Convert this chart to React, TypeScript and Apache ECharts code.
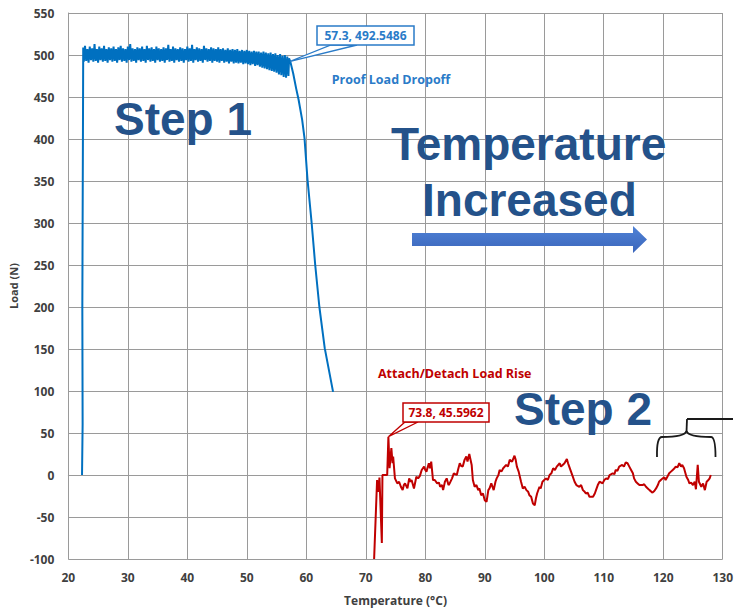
import React, { useEffect, useRef } from "react";
import * as echarts from "echarts";

const xTicks = { min: 20, max: 130, interval: 10 };
const yTicks = { min: -100, max: 550, interval: 50 };

const blueLoad: [number, number][] = [
  [22.3, 0], [22.4, 60], [22.35, 200], [22.45, 400], [22.5, 509],
  [22.6, 492], [22.8, 511], [23.0, 493], [23.2, 507], [23.4, 491], [23.6, 510], [23.8, 494], [24.0, 508], [24.2, 492], [24.4, 513],
  [24.6, 493], [24.8, 507], [25.0, 491], [25.2, 510], [25.4, 494], [25.6, 508], [25.8, 492], [26.0, 511], [26.2, 493], [26.4, 507],
  [26.6, 491], [26.8, 509], [27.0, 494], [27.2, 508], [27.4, 492], [27.6, 510], [27.8, 493], [28.0, 507], [28.2, 491], [28.4, 509],
  [28.6, 494], [28.8, 511], [29.0, 492], [29.2, 508], [29.4, 493], [29.6, 507], [29.8, 491], [30.0, 510], [30.2, 494], [30.4, 513],
  [30.6, 492], [30.8, 508], [31.0, 493], [31.2, 507], [31.4, 491], [31.6, 509], [31.8, 494], [32.0, 508], [32.2, 492], [32.4, 510],
  [32.6, 493], [32.8, 507], [33.0, 491], [33.2, 511], [33.4, 494], [33.6, 508], [33.8, 492], [34.0, 509], [34.2, 493], [34.4, 507],
  [34.6, 491], [34.8, 510], [35.0, 494], [35.2, 508], [35.4, 492], [35.6, 507], [35.8, 493], [36.0, 509], [36.2, 491], [36.4, 508],
  [36.6, 494], [36.8, 512], [37.0, 492], [37.2, 507], [37.4, 493], [37.6, 510], [37.8, 491], [38.0, 508], [38.2, 494], [38.4, 507],
  [38.6, 492], [38.8, 509], [39.0, 493], [39.2, 508], [39.4, 491], [39.6, 507], [39.8, 494], [40.0, 510], [40.2, 492], [40.4, 508],
  [40.6, 493], [40.8, 512], [41.0, 491], [41.2, 507], [41.4, 494], [41.6, 509], [41.8, 492], [42.0, 508], [42.2, 493], [42.4, 507],
  [42.6, 491], [42.8, 511], [43.0, 494], [43.2, 508], [43.4, 492], [43.6, 507], [43.8, 493], [44.0, 509], [44.2, 491], [44.4, 508],
  [44.6, 493], [44.8, 507], [45.0, 492], [45.2, 509], [45.4, 491], [45.6, 507], [45.8, 493], [46.0, 508], [46.2, 491], [46.4, 506],
  [46.6, 492], [46.8, 508], [47.0, 490], [47.2, 506], [47.4, 492], [47.6, 507], [47.8, 490], [48.0, 506], [48.2, 491], [48.4, 507],
  [48.6, 490], [48.8, 505], [49.0, 491], [49.2, 506], [49.4, 489], [49.6, 505], [49.8, 490], [50.0, 506], [50.2, 489], [50.4, 505],
  [50.6, 488], [50.8, 504], [51.0, 489], [51.2, 505], [51.4, 487], [51.6, 504], [51.8, 488], [52.0, 504], [52.2, 486], [52.4, 503],
  [52.6, 485], [52.8, 504], [53.0, 484], [53.2, 503], [53.4, 483], [53.6, 502], [53.8, 482], [54.0, 503], [54.2, 481], [54.4, 501],
  [54.6, 480], [54.8, 502], [55.0, 479], [55.2, 500], [55.4, 477], [55.6, 501], [55.8, 476], [56.0, 499], [56.2, 474], [56.4, 500],
  [56.6, 473], [56.8, 498], [57.0, 475], [57.1, 496], [57.3, 492.5486],
  [57.8, 478], [58.3, 460], [58.7, 447], [59.3, 423], [59.7, 401], [60.2, 352], [60.9, 300],
  [61.5, 250], [62.2, 200], [63.1, 151], [64.5, 99],
];

const redLoad: [number, number][] = [
  [71.4, -100], [71.9, -6], [72.1, -20], [72.3, -3], [72.7, -81], [72.8, 0], [73.6, 0], [73.8, 45.5962],
  [74.0, 8], [74.3, 32], [74.5, 14], [74.6, 22], [74.9, -4], [75.3, -10], [75.6, -8], [75.9, -14], [76.2, -18],
  [76.4, -12], [76.6, -10], [77.0, -16], [77.3, -4], [77.5, -8], [77.7, -6], [78.1, -16], [78.5, -2], [78.8, -4],
  [79.1, -1], [79.4, 6], [79.8, 10], [80.0, 6], [80.2, 4], [80.6, 14], [80.8, 8], [81.0, 16], [81.3, -6], [81.6, -6],
  [82.0, -10], [82.3, -9], [82.5, -14], [82.8, -12], [83.0, -18], [83.3, -8], [83.6, -4], [83.9, -12], [84.1, -10],
  [84.5, -4], [84.8, 2], [85.3, 0], [85.5, 6], [85.8, 14], [86.0, 11], [86.3, 10], [86.6, 18], [86.9, 22], [87.1, 16],
  [87.4, 25], [87.8, 12], [88.0, -6], [88.3, -14], [88.6, -12], [88.9, -18], [89.1, -16], [89.4, -24], [89.7, -22],
  [90.0, -30], [90.3, -32], [90.6, -18], [90.8, -16], [91.1, -10], [91.5, -18], [91.8, -8], [92.0, -4], [92.3, 0],
  [92.5, 6], [92.8, 4], [93.1, 8], [93.6, 12], [93.9, 10], [94.2, 18], [94.6, 16], [95.0, 23], [95.2, 18], [95.4, 10],
  [95.7, 4], [95.9, -2], [96.1, -8], [96.4, -16], [96.7, -14], [97.0, -18], [97.3, -20], [97.5, -24], [97.8, -26],
  [98.1, -34], [98.4, -36], [98.6, -28], [98.8, -22], [99.2, -14], [99.4, -16], [99.7, -8], [100.0, -6], [100.3, -4],
  [100.6, -6], [100.9, 0], [101.2, 2], [101.5, 8], [101.8, 6], [102.1, 10], [102.6, 14], [102.8, 10], [103.1, 12],
  [103.4, 14], [103.8, 19], [104.0, 14], [104.2, 10], [104.5, 4], [104.8, -2], [105.1, -8], [105.4, -12], [105.9, -14],
  [106.2, -12], [106.5, -18], [106.8, -20], [107.0, -22], [107.3, -21], [107.6, -26], [108.2, -26], [108.5, -22],
  [108.7, -18], [109.0, -12], [109.3, -8], [109.8, -10], [110.1, -6], [110.4, -4], [110.7, -5], [111.0, 0], [111.5, 2],
  [111.8, 1], [112.0, 6], [112.3, 5], [112.6, 10], [113.1, 12], [113.4, 10], [113.7, 15], [114.0, 14], [114.3, 10],
  [114.6, 6], [114.9, 2], [115.1, -4], [115.4, -8], [115.7, -10], [116.0, -12], [116.5, -12], [116.8, -11], [117.1, -14],
  [117.4, -16], [117.7, -18], [118.2, -21], [118.5, -19], [118.8, -16], [119.1, -12], [119.3, -8], [119.6, -6],
  [119.9, -4], [120.2, -3], [120.4, -6], [120.7, -2], [121.0, 2], [121.3, 4], [121.6, 6], [121.9, 8], [122.1, 10],
  [122.4, 9], [122.7, 14], [123.0, 10], [123.2, 12], [123.5, 8], [123.9, -2], [124.2, -6], [124.4, -10], [124.7, -9],
  [125.0, -12], [125.3, -8], [125.5, -17], [125.8, 12], [126.0, -8], [126.4, -14], [126.7, -10], [127.0, -18],
  [127.3, -8], [127.6, -6], [127.8, -4], [128.0, 0],
];

const bluePeak: [number, number] = [57.3, 492.5486];
const redPeak: [number, number] = [73.8, 45.5962];
const blueCallout = "57.3, 492.5486";
const redCallout = "73.8, 45.5962";
const blueNote = "Proof Load Dropoff";
const redNote = "Attach/Detach Load Rise";

const BLUE = "#0070c0";
const BLUE_TXT = "#2a7bc8";
const RED = "#c00000";
const BIG = "#24528a";
const LBL = "'Open Sans', 'Noto Sans', sans-serif";
const BIGF = "'Liberation Sans', Arial, sans-serif";

export default function App() {
  const ref = useRef<HTMLDivElement>(null);
  useEffect(() => {
    if (!ref.current) return;
    const chart = echarts.init(ref.current, null, { renderer: "svg" });
    chart.setOption({
      animation: false,
      backgroundColor: "#ffffff",
      grid: { left: 68, right: 13, top: 13, bottom: 53, containLabel: false },
      xAxis: {
        type: "value",
        min: xTicks.min,
        max: xTicks.max,
        interval: xTicks.interval,
        name: "Temperature (°C)",
        nameLocation: "middle",
        nameGap: 35,
        nameTextStyle: { fontFamily: LBL, fontWeight: "bold", fontSize: 12, color: "#404040" },
        axisLine: { show: true, lineStyle: { color: "#9a9a9a", width: 1 } },
        axisTick: { show: false },
        axisLabel: { fontFamily: LBL, fontWeight: "bold", fontSize: 12, color: "#404040", margin: 12 },
        splitLine: { show: true, lineStyle: { color: "#9a9a9a", width: 1 } },
      },
      yAxis: {
        type: "value",
        min: yTicks.min,
        max: yTicks.max,
        interval: yTicks.interval,
        name: "Load (N)",
        nameLocation: "middle",
        nameGap: 46,
        nameTextStyle: { fontFamily: LBL, fontWeight: "bold", fontSize: 11, color: "#404040" },
        axisLine: { show: true, onZero: false, lineStyle: { color: "#9a9a9a", width: 1 } },
        axisTick: { show: false },
        axisLabel: { fontFamily: LBL, fontWeight: "bold", fontSize: 12, color: "#404040", margin: 14 },
        splitLine: { show: true, lineStyle: { color: "#9a9a9a", width: 1 } },
      },
      series: [
        {
          type: "line",
          data: blueLoad,
          showSymbol: false,
          lineStyle: { color: BLUE, width: 2 },
          itemStyle: { color: BLUE },
          z: 3,
        },
        {
          type: "line",
          data: redLoad,
          showSymbol: false,
          lineStyle: { color: RED, width: 2 },
          itemStyle: { color: RED },
          z: 3,
        },
      ],
    });

    const bp = chart.convertToPixel({ gridIndex: 0 }, bluePeak) as number[];
    const rp = chart.convertToPixel({ gridIndex: 0 }, redPeak) as number[];

    const bigText = (text: string, x: number, y: number) => ({
      type: "text",
      x,
      y,
      z: 10,
      style: {
        text,
        font: `bold 46px ${BIGF}`,
        fill: BIG,
        align: "left",
        verticalAlign: "middle",
      },
    });

    const bracketStroke = { stroke: "#1a1a1a", lineWidth: 1.8, fill: "none" };

    chart.setOption({
      graphic: [
        {
          type: "polygon",
          z: 20,
          shape: { points: [[bp[0], bp[1]], [331, 45], [357, 45]] },
          style: { fill: "#ffffff", stroke: BLUE_TXT, lineWidth: 1.3 },
        },
        {
          type: "rect",
          z: 21,
          shape: { x: 317, y: 26, width: 97, height: 19 },
          style: { fill: "#ffffff", stroke: BLUE_TXT, lineWidth: 1.5 },
        },
        {
          type: "text",
          z: 22,
          x: 365.5,
          y: 35.5,
          style: {
            text: blueCallout,
            font: `bold 12px ${LBL}`,
            fill: BLUE_TXT,
            align: "center",
            verticalAlign: "middle",
          },
        },
        {
          type: "text",
          z: 22,
          x: 391,
          y: 79,
          style: {
            text: blueNote,
            font: `bold 12.5px ${LBL}`,
            fill: BLUE_TXT,
            align: "center",
            verticalAlign: "middle",
          },
        },
        {
          type: "polygon",
          z: 20,
          shape: { points: [[rp[0], rp[1]], [405, 422], [418, 422]] },
          style: { fill: "#ffffff", stroke: RED, lineWidth: 1.3 },
        },
        {
          type: "rect",
          z: 21,
          shape: { x: 403, y: 403, width: 86, height: 19 },
          style: { fill: "#ffffff", stroke: RED, lineWidth: 1.5 },
        },
        {
          type: "text",
          z: 22,
          x: 446,
          y: 412.5,
          style: {
            text: redCallout,
            font: `bold 12px ${LBL}`,
            fill: RED,
            align: "center",
            verticalAlign: "middle",
          },
        },
        {
          type: "text",
          z: 22,
          x: 378,
          y: 373,
          style: {
            text: redNote,
            font: `bold 12.5px ${LBL}`,
            fill: RED,
            align: "left",
            verticalAlign: "middle",
          },
        },
        bigText("Step 1", 114, 119),
        bigText("Temperature", 391, 144),
        bigText("Increased", 422, 199.5),
        bigText("Step 2", 514, 409),
        {
          type: "polygon",
          z: 10,
          shape: {
            points: [
              [412, 233], [633, 233], [633, 226], [647, 239.5],
              [633, 253], [633, 246], [412, 246],
            ],
          },
          style: {
            fill: new echarts.graphic.LinearGradient(0, 0, 0, 1, [
              { offset: 0, color: "#4f82d6" },
              { offset: 1, color: "#3b66bb" },
            ]),
          },
        },
        { type: "line", z: 10, shape: { x1: 687, y1: 419, x2: 733, y2: 419 }, style: bracketStroke },
        { type: "line", z: 10, shape: { x1: 687, y1: 419, x2: 686.5, y2: 432 }, style: bracketStroke },
        {
          type: "bezierCurve", z: 10,
          shape: { x1: 686.5, y1: 431, x2: 662, y2: 437, cpx1: 685, cpy1: 437 },
          style: bracketStroke,
        },
        {
          type: "bezierCurve", z: 10,
          shape: { x1: 662, y1: 437, x2: 657, y2: 457, cpx1: 656.5, cpy1: 437 },
          style: bracketStroke,
        },
        {
          type: "bezierCurve", z: 10,
          shape: { x1: 686.5, y1: 431, x2: 711, y2: 437, cpx1: 688, cpy1: 437 },
          style: bracketStroke,
        },
        {
          type: "bezierCurve", z: 10,
          shape: { x1: 711, y1: 437, x2: 715.5, y2: 457, cpx1: 715.5, cpy1: 437 },
          style: bracketStroke,
        },
      ],
    });

    return () => chart.dispose();
  }, []);

  return <div ref={ref} style={{ width: 736, height: 612, position: "absolute", left: 0, top: 0 }} />;
}
